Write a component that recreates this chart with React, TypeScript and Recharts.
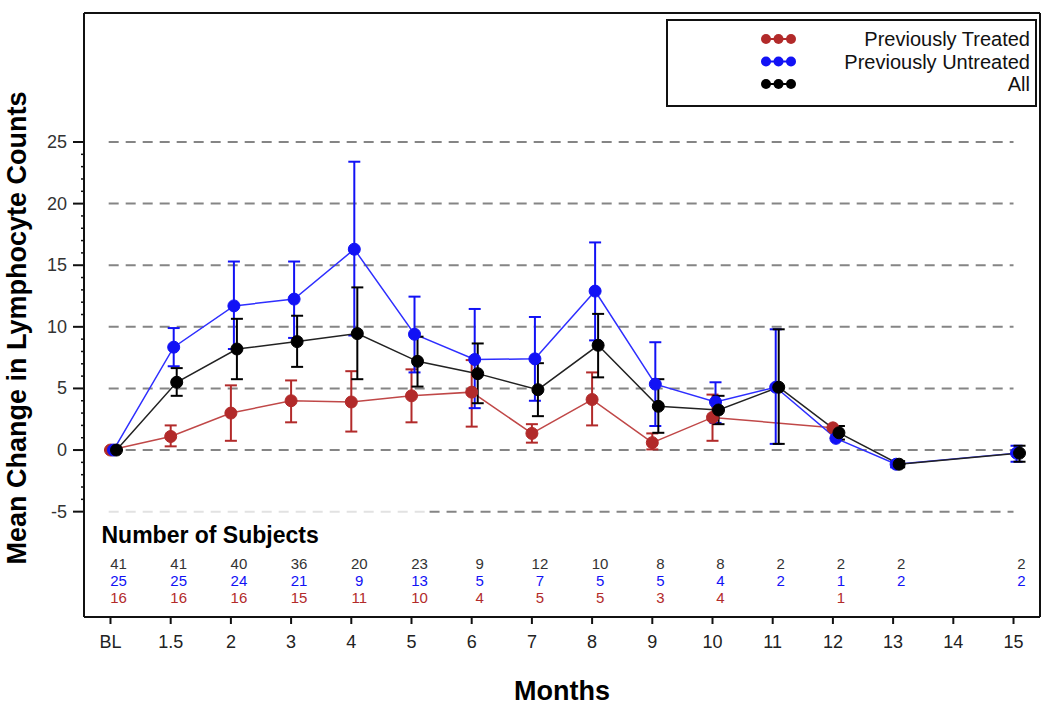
import { ErrorBar, Label, Legend, Line, LineChart, ReferenceLine, XAxis, YAxis } from "recharts";

const months = ["BL", "1.5", "2", "3", "4", "5", "6", "7", "8", "9", "10", "11", "12", "13", "14", "15"];
const seriesNames = ["Previously Treated", "Previously Untreated", "All"];

// mean change and the ends of each error bar (null = not shown)
const treatedMean = [0, 1.1, 3.0, 4.0, 3.9, 4.4, 4.7, 1.35, 4.1, 0.6, 2.65, null, 1.8, null, null, null];
const treatedLow = [null, 0.3, 0.75, 2.25, 1.5, 2.25, 1.9, 0.6, 2.0, 0.05, 0.75, null, null, null, null, null];
const treatedHigh = [null, 2.0, 5.25, 5.65, 6.4, 6.55, 7.3, 2.1, 6.3, 1.35, 4.5, null, null, null, null, null];

const untreatedMean = [0, 8.35, 11.7, 12.25, 16.3, 9.4, 7.35, 7.4, 12.9, 5.35, 3.9, 5.1, 0.95, -1.15, null, -0.25];
const untreatedLow = [null, 6.8, 8.2, 9.1, 9.3, 6.3, 3.4, 4.0, 8.9, 1.95, 2.2, 0.5, null, -1.4, null, -0.95];
const untreatedHigh = [null, 9.9, 15.3, 15.3, 23.4, 12.45, 11.45, 10.8, 16.85, 8.75, 5.5, 9.8, null, -0.9, null, 0.35];

const allMean = [0, 5.5, 8.2, 8.8, 9.45, 7.2, 6.2, 4.9, 8.5, 3.55, 3.25, 5.1, 1.4, -1.15, null, -0.25];
const allLow = [null, 4.4, 5.75, 6.75, 5.75, 5.15, 3.8, 2.75, 5.9, 1.4, 2.1, 0.5, 0.85, -1.4, null, -0.95];
const allHigh = [null, 6.65, 10.65, 10.9, 13.2, 9.2, 8.65, 7.05, 11.05, 5.75, 4.4, 9.8, 1.95, -0.9, null, 0.35];

// number of subjects per visit
const allN = [41, 41, 40, 36, 20, 23, 9, 12, 10, 8, 8, 2, 2, 2, null, 2];
const untreatedN = [25, 25, 24, 21, 9, 13, 5, 7, 5, 5, 4, 2, 1, 2, null, 2];
const treatedN = [16, 16, 16, 15, 11, 10, 4, 5, 5, 3, 4, null, 1, null, null, null];

const gridValues = [-5, 0, 5, 10, 15, 20, 25];

const RED = "#b22a2a";
const BLUE = "#1212f5";
const BLACK = "#000000";
const FONT = "'Liberation Sans', Arial, Helvetica, sans-serif";

const X_DOMAIN = [-0.44, 15.44];
const Y_DOMAIN = [-13.55, 35.47];
const minorTicks = Array.from({ length: 31 }, (_, i) => i - 5);

function buildSeries(mean: (number | null)[], low: (number | null)[], high: (number | null)[], shift: number) {
  const out: { x: number; y: number; err: number[] }[] = [];
  mean.forEach((m, i) => {
    if (m === null) return;
    const lo = low[i];
    const hi = high[i];
    out.push({ x: i + shift, y: m, err: lo == null || hi == null ? [0, 0] : [m - lo, hi - m] });
  });
  return out;
}

const treatedData = buildSeries(treatedMean, treatedLow, treatedHigh, 0);
const untreatedData = buildSeries(untreatedMean, untreatedLow, untreatedHigh, 0.05);
const allData = buildSeries(allMean, allLow, allHigh, 0.1);

function MonthTick(props: any) {
  const { x, y, payload } = props;
  const i = payload.value as number;
  const nx = x + 8;
  return (
    <g fontFamily={FONT}>
      <line x1={x} y1={y} x2={x} y2={y + 7} stroke="#111" strokeWidth={2} />
      <text x={x} y={y + 31} textAnchor="middle" fontSize={18} fill="#222">
        {months[i]}
      </text>
      {i === 0 && (
        <text x={x - 9} y={y - 74} fontSize={23} fontWeight="bold" fill="#000">
          Number of Subjects
        </text>
      )}
      {allN[i] != null && (
        <text x={nx} y={y - 48} textAnchor="middle" fontSize={15} fill="#333">
          {allN[i]}
        </text>
      )}
      {untreatedN[i] != null && (
        <text x={nx} y={y - 31} textAnchor="middle" fontSize={15} fill={BLUE}>
          {untreatedN[i]}
        </text>
      )}
      {treatedN[i] != null && (
        <text x={nx} y={y - 14} textAnchor="middle" fontSize={15} fill={RED}>
          {treatedN[i]}
        </text>
      )}
    </g>
  );
}

function ValueTick(props: any) {
  const { x, y, payload } = props;
  const v = payload.value as number;
  const major = v % 5 === 0;
  return (
    <g fontFamily={FONT}>
      <line x1={x - (major ? 11 : 3)} y1={y} x2={x} y2={y} stroke="#111" strokeWidth={major ? 2 : 1.5} />
      {major && (
        <text x={x - 17} y={y + 6} textAnchor="end" fontSize={18} fill="#333">
          {v}
        </text>
      )}
    </g>
  );
}

function YTitle(props: any) {
  const vb = props.viewBox ?? { x: 0, y: 13, width: 84, height: 604 };
  const cx = vb.x + 26;
  const cy = vb.y + vb.height / 2 + 13;
  return (
    <text
      x={cx}
      y={cy}
      transform={`rotate(-90 ${cx} ${cy})`}
      textAnchor="middle"
      fontFamily={FONT}
      fontSize={27}
      fontWeight="bold"
      fill="#000"
    >
      Mean Change in Lymphocyte Counts
    </text>
  );
}

function LegendBox() {
  const colors = [RED, BLUE, BLACK];
  return (
    <svg width={371} height={88} style={{ display: "block" }}>
      <rect x={1} y={1} width={369} height={86} fill="#fff" stroke="#111" strokeWidth={2} />
      {seriesNames.map((name, k) => {
        const cy = 20 + k * 22.5;
        return (
          <g key={name}>
            <line x1={100} x2={125} y1={cy} y2={cy} stroke={colors[k]} strokeWidth={2} />
            {[100, 112.5, 125].map((cx) => (
              <circle key={cx} cx={cx} cy={cy} r={5} fill={colors[k]} />
            ))}
            <text x={364} y={cy + 7} textAnchor="end" fontFamily={FONT} fontSize={20} fill="#111">
              {name}
            </text>
          </g>
        );
      })}
    </svg>
  );
}

export default function App() {
  const frame = { stroke: "#111", strokeWidth: 2 };
  return (
    <div style={{ position: "absolute", left: 0, top: 0, background: "#fff" }}>
      <LineChart width={1050} height={712} margin={{ top: 13, right: 10, bottom: 0, left: 0 }}>
        <XAxis
          dataKey="x"
          type="number"
          domain={X_DOMAIN}
          allowDataOverflow
          ticks={months.map((_, i) => i)}
          interval={0}
          height={95}
          tickSize={0}
          tickMargin={0}
          tickLine={false}
          tick={<MonthTick />}
          axisLine={frame}
        >
          <Label value="Months" position="insideBottom" offset={12} fontSize={27} fontWeight="bold" fill="#000" fontFamily={FONT} />
        </XAxis>
        <YAxis
          type="number"
          domain={Y_DOMAIN}
          allowDataOverflow
          ticks={minorTicks}
          interval={0}
          width={84}
          tickSize={0}
          tickMargin={0}
          tickLine={false}
          tick={<ValueTick />}
          axisLine={frame}
        >
          <Label content={YTitle} />
        </YAxis>

        {/* top and right edges of the plot frame */}
        <ReferenceLine y={Y_DOMAIN[1]} stroke="#111" strokeWidth={2} ifOverflow="visible" />
        <ReferenceLine x={X_DOMAIN[1]} stroke="#111" strokeWidth={2} ifOverflow="visible" />

        {gridValues.map((v) =>
          v === -5 ? null : (
            <ReferenceLine
              key={v}
              segment={[
                { x: -0.03, y: v },
                { x: 15, y: v },
              ]}
              stroke="#858585"
              strokeWidth={2}
              strokeDasharray="10 7"
            />
          )
        )}
        <ReferenceLine
          segment={[
            { x: -0.03, y: -5 },
            { x: 5.3, y: -5 },
          ]}
          stroke="#e2e2e2"
          strokeWidth={2}
          strokeDasharray="10 7"
        />
        <ReferenceLine
          segment={[
            { x: 5.3, y: -5 },
            { x: 15, y: -5 },
          ]}
          stroke="#858585"
          strokeWidth={2}
          strokeDasharray="10 7"
        />

        <Line
          data={treatedData}
          dataKey="y"
          name={seriesNames[0]}
          stroke="#c04848"
          strokeWidth={1.5}
          dot={{ r: 6, fill: RED, stroke: RED, strokeWidth: 1 }}
          activeDot={false}
          isAnimationActive={false}
        >
          <ErrorBar dataKey="err" direction="y" width={6} stroke={RED} strokeWidth={2} />
        </Line>
        <Line
          data={untreatedData}
          dataKey="y"
          name={seriesNames[1]}
          stroke="#2e2eff"
          strokeWidth={1.5}
          dot={{ r: 6, fill: BLUE, stroke: BLUE, strokeWidth: 1 }}
          activeDot={false}
          isAnimationActive={false}
        >
          <ErrorBar dataKey="err" direction="y" width={6} stroke={BLUE} strokeWidth={2} />
        </Line>
        <Line
          data={allData}
          dataKey="y"
          name={seriesNames[2]}
          stroke="#222"
          strokeWidth={1.5}
          dot={{ r: 6, fill: BLACK, stroke: BLACK, strokeWidth: 1 }}
          activeDot={false}
          isAnimationActive={false}
        >
          <ErrorBar dataKey="err" direction="y" width={6} stroke={BLACK} strokeWidth={2} />
        </Line>

        <Legend
          layout="horizontal"
          verticalAlign="middle"
          align="center"
          content={<LegendBox />}
          wrapperStyle={{ position: "absolute", left: 666, top: 19, width: 371, height: 88 }}
        />
      </LineChart>
    </div>
  );
}
